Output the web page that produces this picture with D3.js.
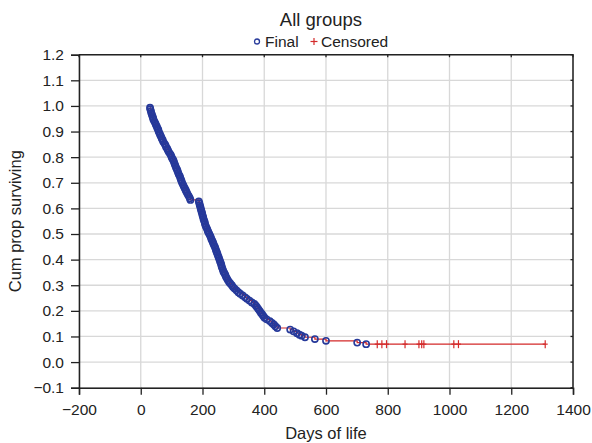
<!DOCTYPE html>
<html><head><meta charset="utf-8">
<script src="https://cdn.jsdelivr.net/npm/d3@7"></script>
<style>
html,body{margin:0;padding:0;background:#fff;}
text{font-family:"Liberation Sans",Arial,Helvetica,sans-serif;fill:#222;}
</style></head><body>
<svg id="chart" width="592" height="443"></svg>
<script>
// ---- data ----
const eventDays = [30,31,33,34,36,38,40,41,44,47,49,52,54,57,58,61,63,66,68,71,73,77,80,82,86,88,91,95,98,100,103,106,108,110,112,114,117,119,121,123,126,128,130,132,134,137,139,142,145,147,150,153,156,159,161,
188,190,191,193,194,196,197,199,200,202,203,205,207,208,210,212,215,217,219,222,225,227,229,232,234,236,239,241,243,245,247,249,251,253,255,257,259,261,262,264,266,268,271,274,276,279,282,286,290,295,299,
304,310,316,322,330,338,344,352,360,368,373,377,381,385,389,393,397,401,408,418,425,431,436,442,484,495,506,514,521,532,564,600,701,730];
const eventSurv = [0.993,0.987,0.980,0.973,0.967,0.960,0.953,0.947,0.940,0.933,0.927,0.920,0.913,0.907,0.900,0.893,0.887,0.880,0.873,0.867,0.860,0.853,0.847,0.840,0.833,0.827,0.820,0.813,0.807,0.800,0.793,0.787,0.780,0.773,0.767,0.760,0.753,0.747,0.740,0.733,0.727,0.720,0.713,0.707,0.700,0.693,0.687,0.680,0.673,0.667,0.660,0.653,0.647,0.640,0.633,
0.627,0.620,0.613,0.607,0.600,0.593,0.587,0.580,0.573,0.567,0.560,0.553,0.547,0.540,0.533,0.527,0.520,0.513,0.507,0.500,0.493,0.487,0.480,0.473,0.467,0.460,0.453,0.447,0.440,0.433,0.427,0.420,0.413,0.407,0.400,0.393,0.387,0.380,0.373,0.367,0.360,0.353,0.347,0.340,0.333,0.327,0.320,0.313,0.307,0.300,0.293,
0.287,0.280,0.273,0.267,0.260,0.253,0.247,0.240,0.233,0.227,0.220,0.213,0.207,0.200,0.193,0.187,0.180,0.173,0.167,0.160,0.153,0.147,0.140,0.133,0.127,0.120,0.113,0.107,0.103,0.097,0.090,0.083,0.076,0.070];
const censorDays = [766,781,796,856,901,910,917,1014,1029,1310];
const censorSurv = 0.070;
const xTicks = [-200,0,200,400,600,800,1000,1200,1400];
const yTicks = [-0.1,0.0,0.1,0.2,0.3,0.4,0.5,0.6,0.7,0.8,0.9,1.0,1.1,1.2];
const titleText = "All groups";
const legendLabels = ["Final","Censored"];
const xLabel = "Days of life";
const yLabel = "Cum prop surviving";

// ---- drawing ----
const svg = d3.select("#chart");
const L = 79, R = 573, T = 54.7, B = 387.7;
const x = d3.scaleLinear().domain([-200,1400]).range([L,R]);
const y = d3.scaleLinear().domain([-0.1,1.2]).range([B,T]);
const navy = "#26399a", red = "#d42a2a";

// grid
const g = svg.append("g");
g.selectAll("line.vg").data(xTicks).join("line")
  .attr("x1",d=>x(d)).attr("x2",d=>x(d)).attr("y1",T).attr("y2",B)
  .attr("stroke","#d8d8d8").attr("stroke-width",1.3);
g.selectAll("line.hg").data(yTicks).join("line")
  .attr("y1",d=>y(d)).attr("y2",d=>y(d)).attr("x1",L).attr("x2",R)
  .attr("stroke","#d8d8d8").attr("stroke-width",1.3);

// frame: top and right with small inward ticks
svg.append("path").attr("d",`M${L},${T}H${R}V${B}`).attr("fill","none").attr("stroke","#222").attr("stroke-width",1.5);
svg.append("g").selectAll("line").data(xTicks).join("line")
  .attr("x1",d=>x(d)).attr("x2",d=>x(d)).attr("y1",T).attr("y2",T+2.5).attr("stroke","#222").attr("stroke-width",1.3);
svg.append("g").selectAll("line").data(yTicks).join("line")
  .attr("y1",d=>y(d)).attr("y2",d=>y(d)).attr("x1",R).attr("x2",R-2.5).attr("stroke","#222").attr("stroke-width",1.3);

const fmtX = d => d < 0 ? "\u2212" + Math.abs(d) : String(d);
const fmtY = d => (d < 0 ? "\u2212" : "") + Math.abs(d).toFixed(1);

const xAxis = svg.append("g").attr("transform",`translate(0,${B})`)
  .call(d3.axisBottom(x).tickValues(xTicks).tickFormat(fmtX).tickSize(7).tickPadding(9));
const yAxis = svg.append("g").attr("transform",`translate(${L},0)`)
  .call(d3.axisLeft(y).tickValues(yTicks).tickFormat(fmtY).tickSize(8).tickPadding(7));
[xAxis,yAxis].forEach(a=>{
  a.select(".domain").attr("stroke","#222").attr("stroke-width",1.5);
  a.selectAll(".tick line").attr("stroke","#222").attr("stroke-width",1.3);
  a.selectAll(".tick text").style("font-size","15.5px").attr("fill","#222");
});

// KM step line
const pts = eventDays.map((d,i)=>[d,eventSurv[i]]);
let path = `M${x(pts[0][0])},${y(pts[0][1])}`;
for (let i=1;i<pts.length;i++){ path += `H${x(pts[i][0])}V${y(pts[i][1])}`; }
path += `H${x(censorDays[censorDays.length-1])}`;
svg.append("path").attr("d",path).attr("fill","none").attr("stroke",red).attr("stroke-width",1.2);

// Final circles
svg.append("g").selectAll("circle").data(pts).join("circle")
  .attr("cx",d=>x(d[0])).attr("cy",d=>y(d[1])).attr("r",3.1)
  .attr("fill","none").attr("stroke",navy).attr("stroke-width",1.6);

// censor marks
const cg = svg.append("g").attr("stroke",red).attr("stroke-width",1.2);
censorDays.forEach(d=>{
  const cx = x(d), cy = y(censorSurv);
  cg.append("line").attr("x1",cx).attr("x2",cx).attr("y1",cy-4).attr("y2",cy+4);
  cg.append("line").attr("x1",cx-2.5).attr("x2",cx+2.5).attr("y1",cy).attr("y2",cy);
});

// title & legend
svg.append("text").attr("x",321).attr("y",26).attr("text-anchor","middle").style("font-size","18.5px").text(titleText);
svg.append("circle").attr("cx",257).attr("cy",41.5).attr("r",2.5).attr("fill","none").attr("stroke",navy).attr("stroke-width",1.3);
svg.append("text").attr("x",265).attr("y",47).style("font-size","15.5px").text(legendLabels[0]);
svg.append("line").attr("x1",314).attr("x2",314).attr("y1",38).attr("y2",45).attr("stroke",red).attr("stroke-width",1.2);
svg.append("line").attr("x1",310.5).attr("x2",317.5).attr("y1",41.5).attr("y2",41.5).attr("stroke",red).attr("stroke-width",1.2);
svg.append("text").attr("x",321).attr("y",47).style("font-size","15.5px").text(legendLabels[1]);

// axis titles
svg.append("text").attr("x",(L+R)/2).attr("y",439).attr("text-anchor","middle").style("font-size","16.5px").text(xLabel);
svg.append("text").attr("transform",`translate(21,${(T+B)/2}) rotate(-90)`).attr("text-anchor","middle").style("font-size","16.5px").text(yLabel);
</script>
</body></html>
